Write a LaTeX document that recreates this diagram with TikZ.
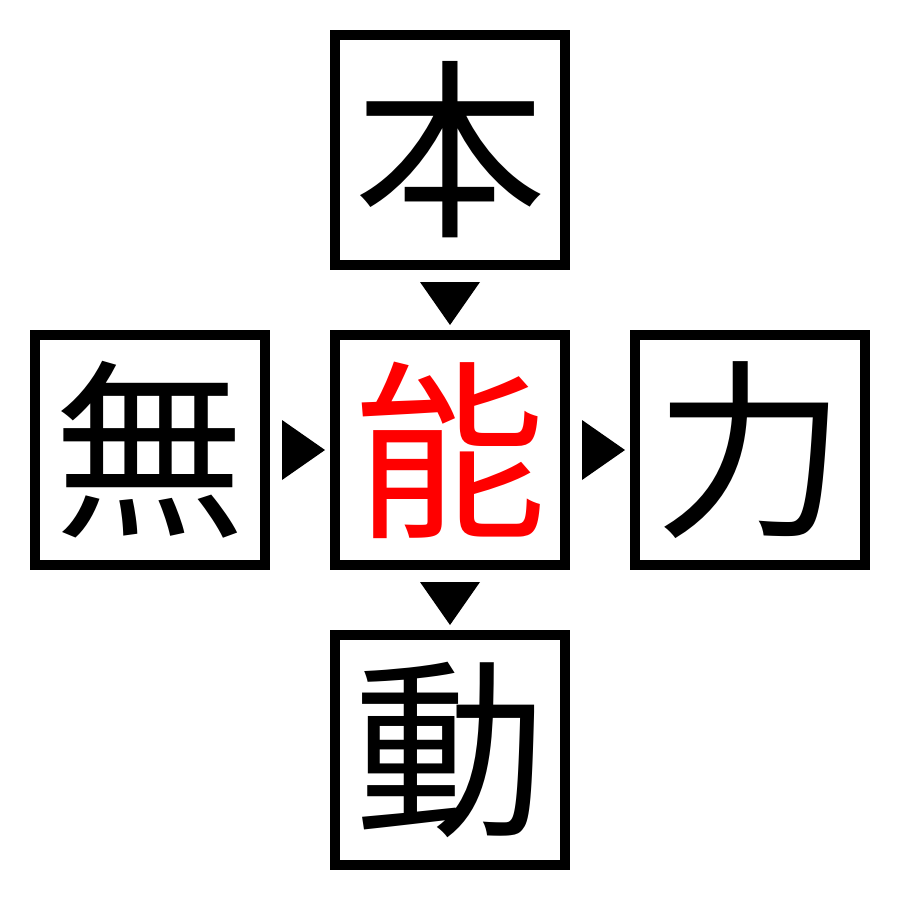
\documentclass[tikz,border=0pt]{standalone}
\usepackage{fontspec}
\usetikzlibrary{calc}
\newfontfamily\cjk{Noto Sans CJK JP}
\begin{document}
\begin{tikzpicture}[x=0.5pt,y=-0.5pt,
  charbox/.style={draw=black,line width=5pt,minimum size=115pt,inner sep=0pt,
    font=\cjk\fontsize{96pt}{96pt}\selectfont},
  tri/.style={fill=black}]
\useasboundingbox (0,0) rectangle (900,900);
\node[charbox] (top) at (450,150) {本};
\node[charbox] (left) at (150,450) {無};
\node[charbox,text=red] (mid) at (450,450) {能};
\node[charbox] (right) at (750,450) {力};
\node[charbox] (bot) at (450,750) {動};
\coordinate (d1) at ($(top.south)!0.5!(mid.north)$);
\coordinate (d2) at ($(mid.south)!0.5!(bot.north)$);
\coordinate (r1) at ($(left.east)!0.5!(mid.west)$);
\coordinate (r2) at ($(mid.east)!0.5!(right.west)$);
\fill[tri] ($(d1)+(-30,-18)$) -- ($(d1)+(30,-18)$) -- ($(d1)+(0,25)$) -- cycle;
\fill[tri] ($(d2)+(-30,-18)$) -- ($(d2)+(30,-18)$) -- ($(d2)+(0,25)$) -- cycle;
\fill[tri] ($(r1)+(-18,-30)$) -- ($(r1)+(-18,30)$) -- ($(r1)+(25,0)$) -- cycle;
\fill[tri] ($(r2)+(-18,-30)$) -- ($(r2)+(-18,30)$) -- ($(r2)+(25,0)$) -- cycle;
\end{tikzpicture}
\end{document}
